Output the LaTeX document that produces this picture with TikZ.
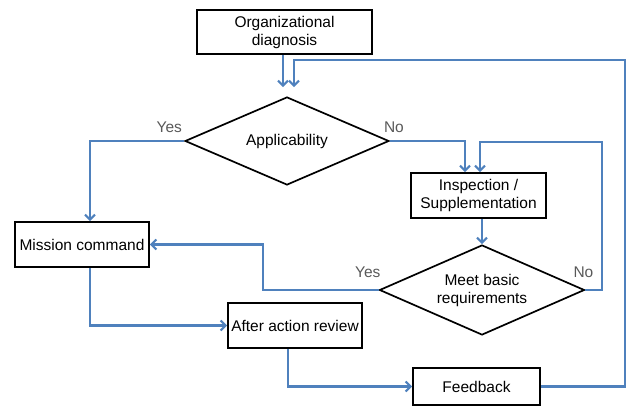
\documentclass[tikz,border=0pt]{standalone}
\usepackage{fontspec}
\setmainfont{Liberation Sans}
\usetikzlibrary{shapes.geometric, positioning, arrows.meta}

\definecolor{flowblue}{RGB}{79,129,189}
\definecolor{lblgray}{RGB}{89,89,89}

\tikzset{
	box/.style={draw, line width=1.9pt, rectangle, align=center, inner sep=0pt,
		font=\fontsize{15.5}{18}\selectfont},
	decision/.style={draw, line width=1.7pt, diamond, aspect=2.3, align=center, inner sep=0pt,
		font=\fontsize{15.5}{18}\selectfont},
	lbl/.style={text=lblgray, inner sep=0pt, font=\fontsize{15.5}{18}\selectfont},
	flow/.style={draw=flowblue, line width=2.1pt,
		-{Straight Barb[length=5pt,width=10pt]}}
}

\begin{document}
\begin{tikzpicture}[x=1pt, y=1pt]
	\useasboundingbox (0,0) rectangle (630,-412);

	\node[box, minimum width=175, minimum height=44] (diag) at (284.5,-32) {Organizational\\diagnosis};
	\node[decision, minimum width=204, minimum height=88] (appl) at (287,-141) {Applicability};
	\node[box, minimum width=135, minimum height=45] (insp) at (478.5,-195.5) {Inspection /\\Supplementation};
	\node[decision, minimum width=205, minimum height=90] (meet) at (482,-290) {Meet basic\\requirements};
	\node[box, minimum width=134, minimum height=45] (mission) at (82,-244.5) {Mission command};
	\node[box, minimum width=134, minimum height=45] (aar) at (295,-325.5) {After action review};
	\node[box, minimum width=127, minimum height=37] (feed) at (476.5,-386.5) {Feedback};

	% decision labels
	\node[lbl, anchor=south east] (yes1) at ([xshift=-2pt,yshift=8pt]appl.west) {Yes};
	\node[lbl, anchor=south west] (no1) at ([xshift=-6pt,yshift=8pt]appl.east) {No};
	\node[lbl, anchor=south east] (yes2) at ([xshift=2pt,yshift=12pt]meet.west) {Yes};
	\node[lbl, anchor=south west] (no2) at ([xshift=-12pt,yshift=12pt]meet.east) {No};

	% bends
	\coordinate (fbk) at (625,-60);
	\coordinate (nochk) at (602,-142);
	\coordinate (yesbend) at (263,-290);

	\draw[flow] ([xshift=-4pt]appl.north |- diag.south) -- ([xshift=-4pt,yshift=9pt]appl.north);
	\draw[flow] (appl.west) -| ([xshift=8pt]mission.north);
	\draw[flow] (appl.east) -| ([xshift=-13.5pt]insp.north);
	\draw[flow] (insp.south -| meet.north) -- (meet.north);
	\draw[flow] (meet.east) -| (nochk) -| ([xshift=1.5pt]insp.north);
	\draw[flow] (meet.west) -- (yesbend) |- (mission.east);
	\draw[flow] ([xshift=8pt]mission.south) |- (aar.west);
	\draw[flow] ([xshift=-7pt]aar.south) |- (feed.west);
	\draw[flow] (feed.east) -| (fbk) -| ([xshift=7pt,yshift=9pt]appl.north);
\end{tikzpicture}
\end{document}
